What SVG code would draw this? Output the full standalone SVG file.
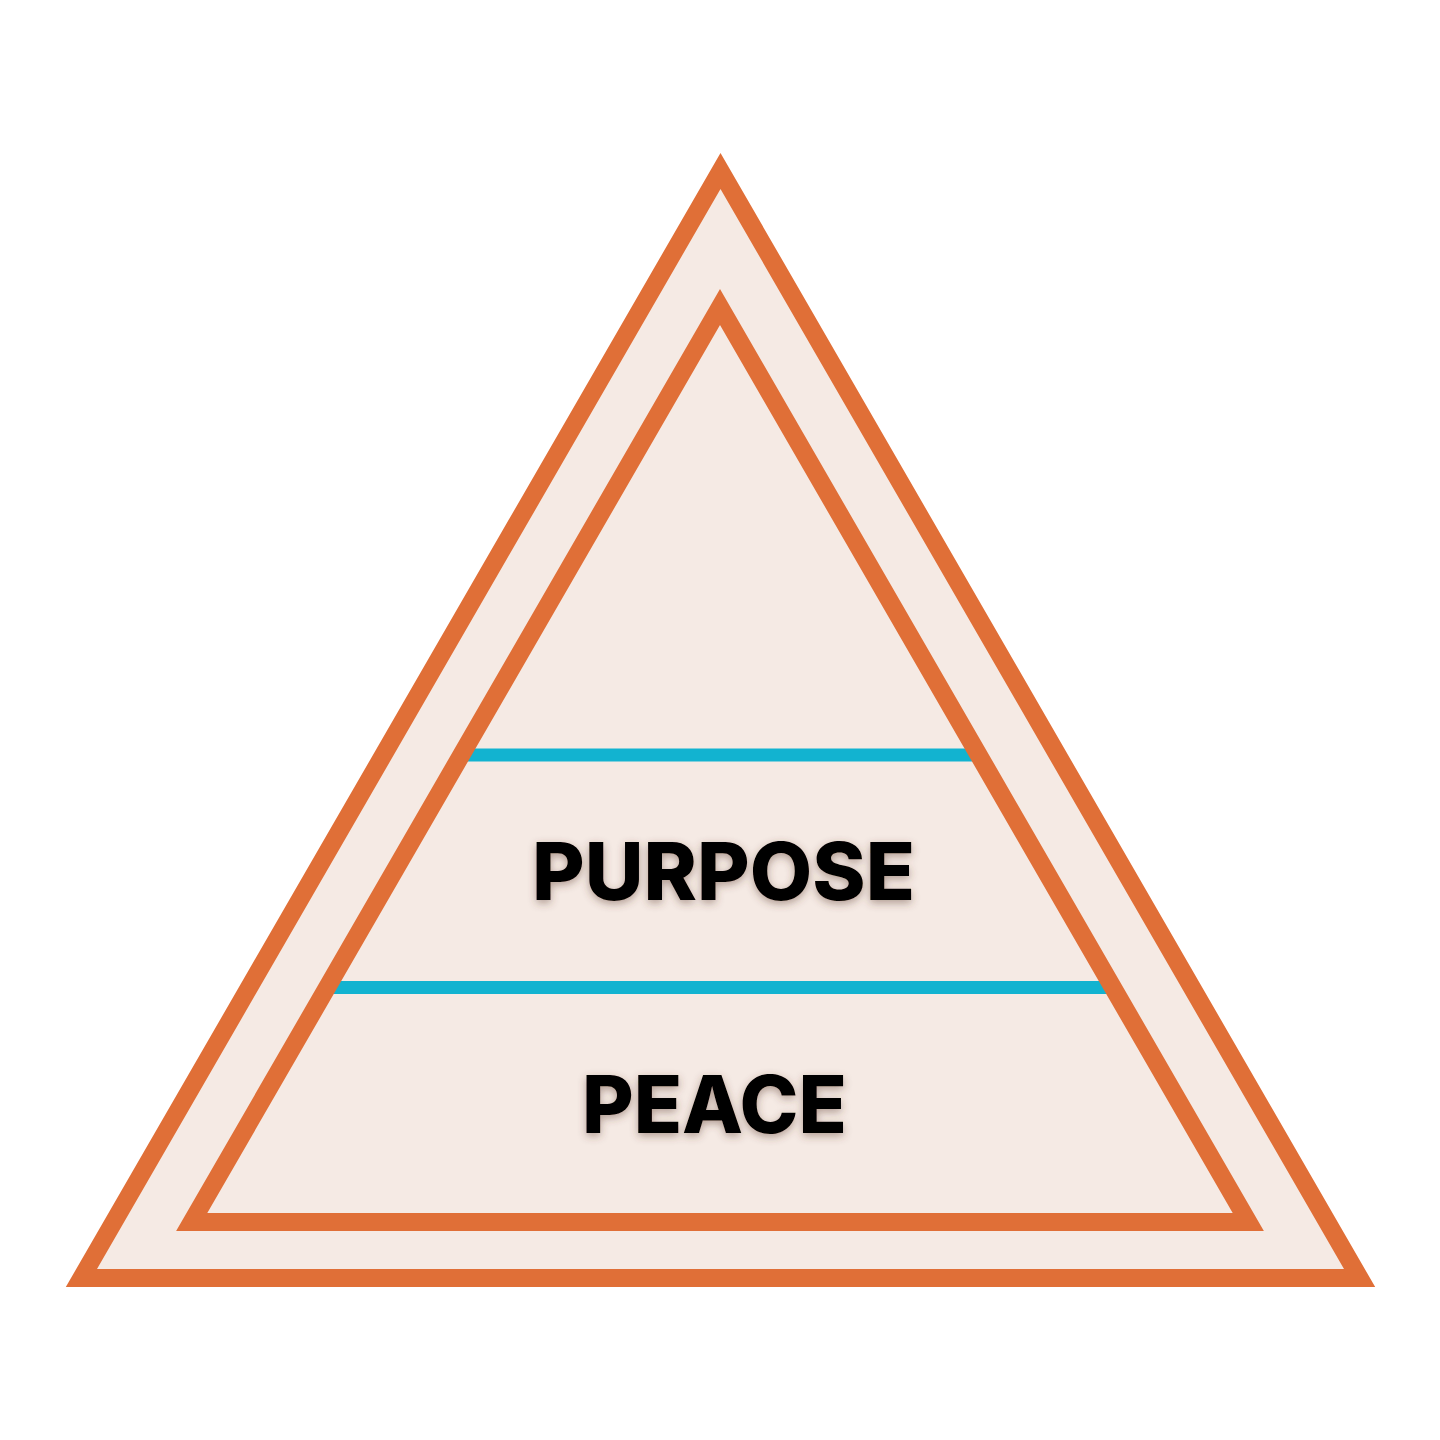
<svg xmlns="http://www.w3.org/2000/svg" width="1440" height="1440" viewBox="0 0 1440 1440">
  <defs>
    <style>
      .tri { fill: #F5EAE4; stroke: #E06F37; stroke-width: 18; stroke-linejoin: miter; stroke-miterlimit: 10; }
      .band { stroke: #12B3D0; stroke-width: 13; }
      .label { font-family: Inter, "Liberation Sans", sans-serif; font-weight: 800; font-size: 80px; fill: #000; }
    </style>
    <filter id="shadow" x="-10%" y="-30%" width="120%" height="160%">
      <feDropShadow dx="0" dy="3" stdDeviation="4" flood-color="#5a3a2a" flood-opacity="0.45"/>
    </filter>
  </defs>
  <rect width="1440" height="1440" fill="#FFFFFF"/>
  <g id="outer-triangle">
    <polygon class="tri" points="720.5,171 81.4,1278 1359.6,1278"/>
  </g>
  <g id="inner-triangle">
    <polygon points="720,307 191.7,1222 1248.3,1222" fill="#F5EAE4"/>
  </g>
  <g id="connectors">
    <line class="band" x1="462" y1="755" x2="975" y2="755"/>
    <line class="band" x1="328" y1="987.5" x2="1112" y2="987.5"/>
  </g>
  <g id="inner-triangle-outline">
    <polygon points="720,307 191.7,1222 1248.3,1222" fill="none" stroke="#E06F37" stroke-width="18" stroke-miterlimit="10"/>
  </g>
  <g id="purpose" filter="url(#shadow)">
    <text class="label" x="532" y="900" textLength="383" lengthAdjust="spacingAndGlyphs">PURPOSE</text>
  </g>
  <g id="peace" filter="url(#shadow)">
    <text class="label" x="582" y="1133" textLength="265" lengthAdjust="spacingAndGlyphs">PEACE</text>
  </g>
</svg>
